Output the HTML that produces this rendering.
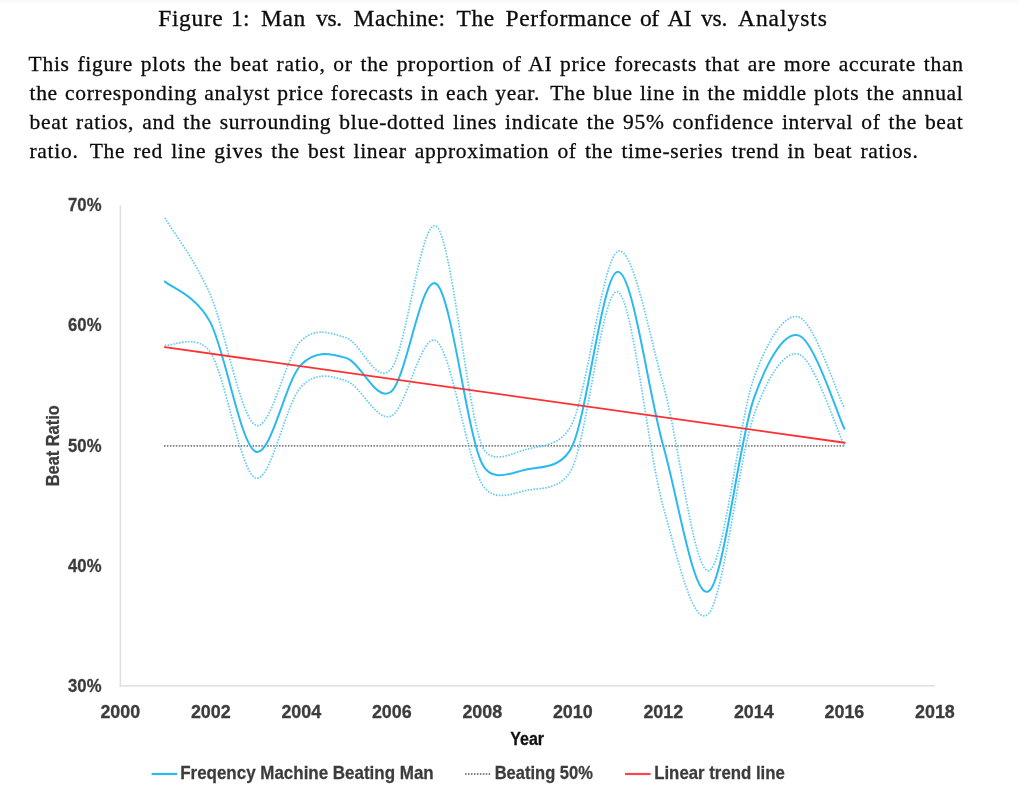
<!DOCTYPE html>
<html lang="en">
<head>
<meta charset="utf-8">
<title>Figure 1: Man vs. Machine</title>
<style>
html,body{margin:0;padding:0;background:#fff;}
body{width:1019px;height:790px;position:relative;overflow:hidden;font-family:"Liberation Serif",serif;color:#111;}
.topshade{position:absolute;left:0;top:0;width:1019px;height:5px;background:linear-gradient(#f9f9f9,#fff);}
.ln{position:absolute;white-space:nowrap;font-size:21.5px;line-height:30px;height:30px;color:#0c0c0c;letter-spacing:0.7px;-webkit-text-stroke:0.3px #0c0c0c;}
.sp{margin-right:3.5px;}
.w{position:absolute;top:0;white-space:nowrap;}
.j{text-align:justify;text-align-last:justify;white-space:normal;}
svg{position:absolute;left:0;top:0;}
.ax{font-family:"Liberation Sans",sans-serif;font-weight:bold;font-size:18px;fill:#3c3c3c;stroke:#3c3c3c;stroke-width:0.28px;}
</style>
</head>
<body>
<div class="topshade"></div>
<div class="ln" id="t0" style="left:158px;top:3.4px;width:669px;font-size:23.5px;letter-spacing:0;"><span class="w" style="left:0.2px;letter-spacing:0.65px">Figure</span> <span class="w" style="left:73.0px;letter-spacing:0.30px">1:</span> <span class="w" style="left:102.9px;letter-spacing:0.65px">Man</span> <span class="w" style="left:158.0px;letter-spacing:-0.30px">vs.</span> <span class="w" style="left:195.6px;letter-spacing:0.40px">Machine:</span> <span class="w" style="left:298.4px;letter-spacing:0.65px">The</span> <span class="w" style="left:347.5px;letter-spacing:0.60px">Performance</span> <span class="w" style="left:482.1px;letter-spacing:-0.50px">of</span> <span class="w" style="left:509.4px;letter-spacing:-0.50px">AI</span> <span class="w" style="left:543.0px;letter-spacing:-0.20px">vs.</span> <span class="w" style="left:580.0px;letter-spacing:0.95px">Analysts</span></div>
<div class="ln j" id="l1" style="left:28.6px;top:48.5px;width:935px;">This figure plots the beat ratio, or the proportion of AI price forecasts that are more accurate than</div>
<div class="ln j" id="l2" style="left:29.5px;top:77.9px;width:934px;">the corresponding analyst price forecasts in each <span class="sp">year.</span> The blue line in the middle plots the annual</div>
<div class="ln j" id="l3" style="left:29.5px;top:106.8px;width:934px;">beat ratios, and the surrounding blue-dotted lines indicate the 95% confidence interval of the beat</div>
<div class="ln j" id="l4" style="left:29.5px;top:135.7px;width:889px;"><span class="sp">ratio.</span> The red line gives the best linear approximation of the time-series trend in beat ratios.</div>

<svg width="1019" height="790" viewBox="0 0 1019 790">
  <!-- axes -->
  <line x1="120.4" y1="205.2" x2="120.4" y2="686.8" stroke="#dedede" stroke-width="1.5"/>
  <line x1="119.7" y1="685.9" x2="934.8" y2="685.9" stroke="#e3e3e3" stroke-width="1.9"/>
  <!-- 50% reference -->
  <line x1="164" y1="445.9" x2="845" y2="445.9" stroke="#7c7c7c" stroke-width="1.9" stroke-dasharray="1.5 1.45"/>
  <!-- CI bands -->
  <g fill="none" stroke="#5fc9f5" stroke-width="1.7" stroke-dasharray="1.5 1.45">
    <path d="M164.80 217.86 C172.35 230.60 195.00 259.76 210.11 294.30 C225.21 328.84 240.31 417.30 255.41 425.10 C270.52 432.90 285.62 355.66 300.72 341.10 C315.82 326.54 330.93 333.14 346.03 337.74 C361.13 342.34 376.23 387.24 391.34 368.70 C406.44 350.16 421.54 213.70 436.64 226.50 C451.74 239.30 466.85 408.40 481.95 445.50 C490.52 466.55 512.15 452.90 527.26 449.10 C542.36 445.30 561.64 446.53 572.56 422.70 C587.67 389.76 602.77 257.86 617.87 251.46 C632.97 245.06 648.07 331.08 663.18 384.30 C678.28 437.52 693.38 571.78 708.48 570.78 C723.59 569.78 738.69 420.58 753.79 378.30 C766.60 342.45 784.00 312.10 799.10 317.10 C814.20 322.10 836.85 393.10 844.40 408.30"/>
    <path d="M164.80 345.30 C172.35 346.40 197.19 333.00 210.11 351.90 C225.21 374.00 240.31 472.00 255.41 477.90 C270.52 483.80 285.62 403.50 300.72 387.30 C315.82 371.10 330.93 375.92 346.03 380.70 C361.13 385.48 376.23 422.58 391.34 415.98 C406.44 409.38 421.54 329.78 436.64 341.10 C451.74 352.42 466.85 459.04 481.95 483.90 C493.83 503.45 512.15 493.06 527.26 490.26 C542.36 487.46 561.99 490.24 572.56 467.10 C587.67 434.04 602.77 285.30 617.87 291.90 C632.97 298.50 648.07 453.06 663.18 506.70 C678.28 560.34 693.38 628.94 708.48 613.74 C723.59 598.54 738.69 458.74 753.79 415.50 C766.34 379.56 784.00 349.24 799.10 354.30 C814.20 359.36 836.85 430.60 844.40 445.86"/>
  </g>
  <path d="M164.80 281.46 C172.35 288.20 195.83 295.10 210.11 321.90 C225.21 350.24 240.31 444.30 255.41 451.50 C270.52 458.70 285.62 380.70 300.72 365.10 C315.82 349.50 330.93 353.50 346.03 357.90 C361.13 362.30 376.23 403.80 391.34 391.50 C406.44 379.20 421.54 272.10 436.64 284.10 C451.74 296.10 466.85 432.64 481.95 463.50 C491.99 484.01 512.15 472.26 527.26 469.26 C542.36 466.26 561.89 468.75 572.56 445.50 C587.67 412.60 602.77 271.86 617.87 271.86 C632.97 271.86 648.07 392.24 663.18 445.50 C678.28 498.76 693.38 599.22 708.48 591.42 C723.59 583.62 738.69 441.34 753.79 398.70 C766.76 362.08 784.00 330.58 799.10 335.58 C814.20 340.58 836.85 413.18 844.40 428.70" fill="none" stroke="#2bb9f0" stroke-width="2" stroke-linecap="round" stroke-linejoin="round"/>
  <path d="M164.80 347.10 L844.70 442.74" fill="none" stroke="#ff3032" stroke-width="1.9" stroke-linecap="round"/>
  <!-- y labels -->
  <g class="ax" text-anchor="end">
    <text x="101.5" y="211" textLength="33.4" lengthAdjust="spacingAndGlyphs">70%</text>
    <text x="101.5" y="331" textLength="33.4" lengthAdjust="spacingAndGlyphs">60%</text>
    <text x="101.5" y="451.9" textLength="33.4" lengthAdjust="spacingAndGlyphs">50%</text>
    <text x="101.5" y="572.3" textLength="33.4" lengthAdjust="spacingAndGlyphs">40%</text>
    <text x="101.5" y="692.3" textLength="33.4" lengthAdjust="spacingAndGlyphs">30%</text>
  </g>
  <!-- x labels -->
  <g class="ax" text-anchor="middle">
    <text x="120.3" y="718" textLength="39.8" lengthAdjust="spacingAndGlyphs">2000</text>
    <text x="210.8" y="718" textLength="39.8" lengthAdjust="spacingAndGlyphs">2002</text>
    <text x="301.3" y="718" textLength="39.8" lengthAdjust="spacingAndGlyphs">2004</text>
    <text x="391.8" y="718" textLength="39.8" lengthAdjust="spacingAndGlyphs">2006</text>
    <text x="482.3" y="718" textLength="39.8" lengthAdjust="spacingAndGlyphs">2008</text>
    <text x="572.8" y="718" textLength="39.8" lengthAdjust="spacingAndGlyphs">2010</text>
    <text x="663.3" y="718" textLength="39.8" lengthAdjust="spacingAndGlyphs">2012</text>
    <text x="753.8" y="718" textLength="39.8" lengthAdjust="spacingAndGlyphs">2014</text>
    <text x="844.4" y="718" textLength="39.8" lengthAdjust="spacingAndGlyphs">2016</text>
    <text x="934.9" y="718" textLength="39.8" lengthAdjust="spacingAndGlyphs">2018</text>
  </g>
  <text class="ax" x="510.3" y="745" textLength="33.8" lengthAdjust="spacingAndGlyphs" style="fill:#111;stroke:#111">Year</text>
  <text class="ax" transform="translate(58.9 486.3) rotate(-90)" textLength="81" lengthAdjust="spacingAndGlyphs">Beat Ratio</text>
  <!-- legend -->
  <line x1="151.6" y1="774" x2="177" y2="774" stroke="#2bb9f0" stroke-width="2.2"/>
  <text class="ax" style="font-size:19px" x="180.2" y="779.4" textLength="253.5" lengthAdjust="spacingAndGlyphs">Freqency Machine Beating Man</text>
  <line x1="465.1" y1="774" x2="491.4" y2="774" stroke="#7c7c7c" stroke-width="1.9" stroke-dasharray="1.5 1.45"/>
  <text class="ax" style="font-size:19px" x="494.7" y="779.4" textLength="98.2" lengthAdjust="spacingAndGlyphs">Beating 50%</text>
  <line x1="625" y1="774" x2="650.6" y2="774" stroke="#fd4648" stroke-width="2.2"/>
  <text class="ax" style="font-size:19px" x="654.2" y="779.4" textLength="130.7" lengthAdjust="spacingAndGlyphs">Linear trend line</text>
</svg>
</body>
</html>
